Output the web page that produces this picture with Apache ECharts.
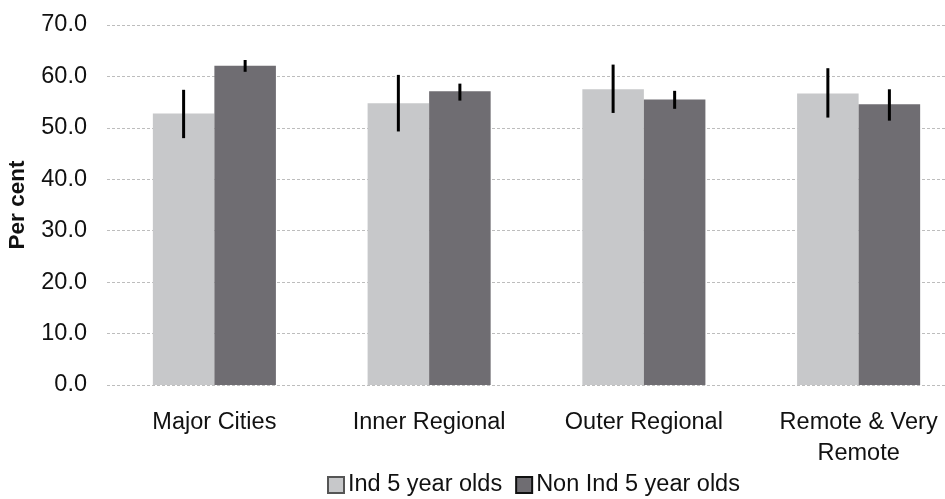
<!DOCTYPE html>
<html>
<head>
<meta charset="utf-8">
<script src="https://cdn.jsdelivr.net/npm/echarts@6/dist/echarts.min.js"></script>
<style>html,body{margin:0;padding:0;background:#fff}#c{width:945px;height:499px}</style>
</head>
<body>
<div id="c"></div>
<script>
const categories = ['Major Cities', 'Inner Regional', 'Outer Regional', 'Remote & Very\nRemote'];
const seriesNames = ['Ind 5 year olds', 'Non Ind 5 year olds'];
const indValues = [52.8, 54.8, 57.5, 56.7];
const indLow = [48.0, 49.3, 52.9, 52.0];
const indHigh = [57.4, 60.3, 62.3, 61.6];
const nonValues = [62.1, 57.1, 55.5, 54.6];
const nonLow = [60.9, 55.3, 53.7, 51.4];
const nonHigh = [63.2, 58.6, 57.2, 57.5];
const yTicks = [0, 10, 20, 30, 40, 50, 60, 70];

const FONT = 'Liberation Sans, Arial, sans-serif';
const FS = 23.5;
const GAP = 0.427;
const colors = ['#c7c8ca', '#6f6d72'];

function errSeries(low, high, side) {
  return {
    type: 'custom',
    z: 10,
    silent: true,
    data: low.map((l, i) => [i, l, high[i]]),
    renderItem: function (params, api) {
      const i = api.value(0);
      const p1 = api.coord([i, api.value(1)]);
      const p2 = api.coord([i, api.value(2)]);
      const band = api.size([1, 0])[0];
      const bw = band * (1 - GAP) / 2;
      const x = p1[0] + side * bw / 2;
      return {
        type: 'line',
        shape: { x1: x, y1: p1[1], x2: x, y2: p2[1] },
        style: { stroke: '#000', lineWidth: 3 }
      };
    }
  };
}

const chart = echarts.init(document.getElementById('c'));
chart.setOption({
  animation: false,
  textStyle: { fontFamily: FONT },
  grid: { left: 107, top: 25, width: 859, bottom: 114, containLabel: false, outerBoundsMode: 'none' },
  legend: {
    data: seriesNames.map((n, i) => ({
      name: n,
      icon: 'rect',
      itemStyle: { color: colors[i], borderColor: i === 0 ? '#555' : '#111', borderWidth: 2 }
    })),
    left: 322,
    top: 468,
    itemWidth: 16,
    itemHeight: 16,
    itemGap: 13,
    textStyle: { fontSize: FS, color: '#111', fontFamily: FONT, padding: [0, 0, 0, -1] }
  },
  xAxis: {
    type: 'category',
    data: categories,
    axisLine: { show: false },
    axisTick: { show: false },
    axisLabel: { fontSize: FS, color: '#111', margin: 22, lineHeight: 31, interval: 0, fontFamily: FONT }
  },
  yAxis: {
    type: 'value',
    min: yTicks[0],
    max: yTicks[yTicks.length - 1],
    interval: 10,
    name: 'Per cent',
    nameLocation: 'middle',
    nameRotate: 90,
    nameGap: 78,
    nameTextStyle: { fontSize: 22.5, fontWeight: 'bold', color: '#111', fontFamily: FONT },
    axisLine: { show: false },
    axisTick: { show: false },
    axisLabel: { fontSize: FS, color: '#111', margin: 20, formatter: v => v.toFixed(1), fontFamily: FONT },
    splitLine: { lineStyle: { color: '#bdbdbd', type: [3, 2], width: 1 } }
  },
  series: [
    { name: seriesNames[0], type: 'bar', data: indValues, barGap: '0%', barCategoryGap: (GAP * 100) + '%', itemStyle: { color: colors[0] } },
    { name: seriesNames[1], type: 'bar', data: nonValues, barGap: '0%', barCategoryGap: (GAP * 100) + '%', itemStyle: { color: colors[1] } },
    errSeries(indLow, indHigh, -1),
    errSeries(nonLow, nonHigh, 1)
  ]
});
</script>
</body>
</html>
